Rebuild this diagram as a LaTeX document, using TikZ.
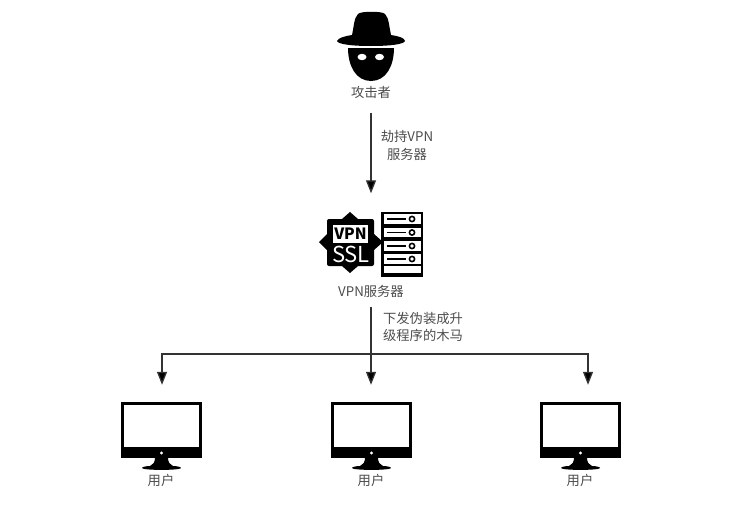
\documentclass[tikz,border=0pt]{standalone}
\usepackage{fontspec}
\setmainfont{Noto Sans CJK SC}
\usepackage{tikz}
\usetikzlibrary{arrows.meta}

\tikzset{
    flow/.style={draw=black!80, line width=1.3pt, -{Triangle[length=13pt, width=10pt, fill=black]}},
    textlabel/.style={font=\fontsize{13.3}{17.5}\selectfont, text=black!70, inner sep=0pt, align=center},
    iconlabel/.style={textlabel, minimum height=#1},
    iconbox/.style={inner sep=0pt, minimum width=#1, minimum height=#1},
    pics/monitor/.style={code={
        \fill[black] (-40,-30) rectangle (41,26);
        \fill[white] (-37,-27) rectangle (38,15);
        \fill[white] (0.5,21) circle (1.6);
        \fill[black] (-6,26) -- (7,26) .. controls (7,30) and (9,33) .. (12,34)
            .. controls (16,34) and (20,35) .. (20,36)
            .. controls (20,38.5) and (-19,38.5) .. (-19,36)
            .. controls (-19,35) and (-15,34) .. (-11,34)
            .. controls (-8,33) and (-6,30) .. (-6,26) -- cycle;
    }},
}

\begin{document}
\begin{tikzpicture}[x=1pt, y=-1pt]
    \useasboundingbox (0,0) rectangle (730,509);

    % attacker: hat and face
    \fill[black] (352,35) .. controls (354,26) and (354,18) .. (358,14)
        .. controls (360,11) and (383,11) .. (385,14)
        .. controls (389,18) and (389,26) .. (391,35)
        .. controls (398,36) and (405,38) .. (405,41)
        .. controls (404,44) and (392,46) .. (371,46)
        .. controls (350,46) and (338,44) .. (337,41)
        .. controls (338,38) and (345,36) .. (352,35) -- cycle;
    \fill[black] (348,48) -- (394,48) .. controls (394,66) and (386,81) .. (371,81)
        .. controls (356,81) and (348,66) .. (348,48) -- cycle;
    \fill[white] (362,57) ellipse (4.5 and 3.2);
    \fill[white] (379.5,57) ellipse (4.5 and 3.2);
    \node[iconlabel=42pt] (attacker) at (371,92) {攻击者};

    % vpn badge
    \fill[black] (350,212) -- (358,219) -- (342,219) -- cycle;
    \fill[black] (350,273) -- (358,266) -- (342,266) -- cycle;
    \fill[black] (319,242) -- (327,234) -- (327,250) -- cycle;
    \fill[black] (383,242) -- (374,234) -- (374,250) -- cycle;
    \fill[black, rounded corners=2pt] (327,219) rectangle (374,266);
    \fill[white] (333,225) rectangle (368,243);
    \node[font=\fontsize{15.5}{16}\selectfont\bfseries, text=black, inner sep=0pt] (vpntext) at (350.5,233.5) {VPN};
    \node[font=\fontsize{22}{22}\selectfont, text=white, inner sep=0pt] (ssltext) at (351,254.5) {SSL};

    % server rack
    \fill[black] (381,212) rectangle (423,277);
    \fill[white] (383.5,266) rectangle (420.5,273);
    \foreach \y in {214,227.5,241,254} {
        \fill[white] (383.5,\y) rectangle (420.5,\y+9.5);
        \draw[black, line width=1.3pt] (387,\y+5) -- (406,\y+5);
        \draw[black, line width=1.6pt] (412,\y+5) circle (2.6);
    }
    \node[iconbox=102pt] (server) at (371,244.5) {};
    \node[iconlabel=32pt] (serverlabel) at (371,291) {VPN服务器};

    % users
    \foreach \x/\n in {161/1, 371/2, 580/3} {
        \pic at (\x,432) {monitor};
        \node[iconbox=94pt] (user\n) at (\x,432) {};
        \node[textlabel] (userlabel\n) at (\x,480.5) {用户};
    }

    % connectors
    \coordinate (bus) at (371,354);
    \coordinate (busleft) at (162,354);
    \coordinate (busright) at (588,354);
    \draw[flow] (attacker) -- (server);
    \draw[flow] (serverlabel) -- (user2);
    \draw[flow] (bus) -| (busleft) -- (busleft |- user1.north);
    \draw[flow] (bus) -| (busright) -- (busright |- user3.north);

    % connector labels
    \node[textlabel] (hijack) at (407,145.5) {劫持VPN\\服务器};
    \node[textlabel] (trojan) at (423,327) {下发伪装成升\\级程序的木马};
\end{tikzpicture}
\end{document}
